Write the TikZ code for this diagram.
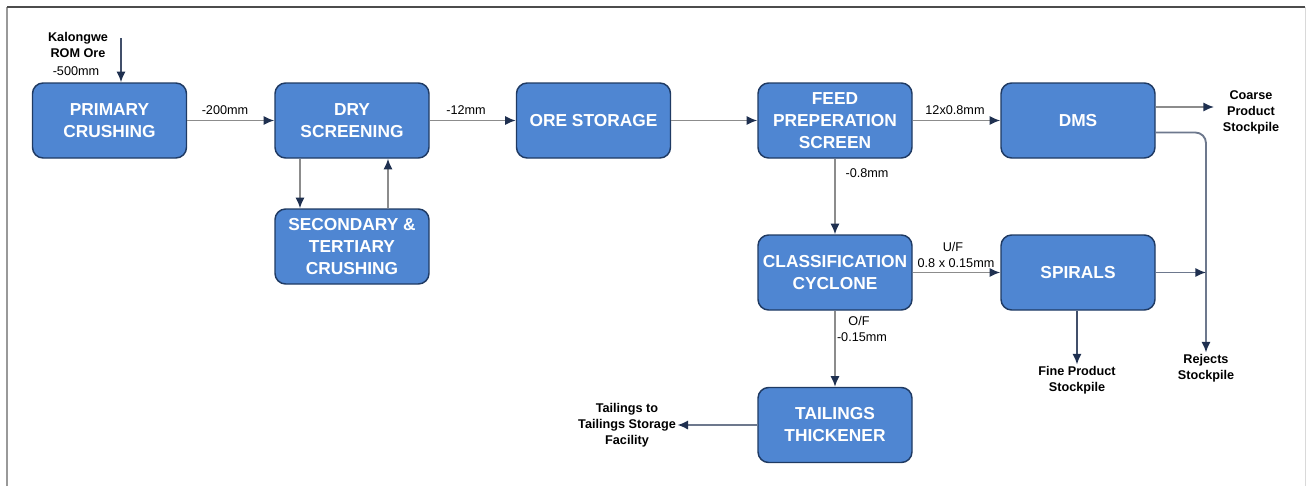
\documentclass[tikz,border=0pt]{standalone}
\usepackage{fontspec}
\setmainfont{Liberation Sans}
\usepackage{tikz}
\usetikzlibrary{positioning}
\usetikzlibrary{arrows.meta}

\definecolor{boxblue}{HTML}{4F86D2}
\definecolor{boxedge}{HTML}{1F3A63}
\definecolor{linegray}{HTML}{8C8C8C}
\definecolor{tipnavy}{HTML}{1F3050}

\tikzset{
  unit/.style={draw=boxedge, line width=1.1pt, fill=boxblue, rounded corners=8pt,
    minimum width=115.5pt, minimum height=56.25pt, align=center, text=white,
    font=\fontsize{13}{16.5}\selectfont\bfseries},
  flow/.style={draw=linegray, line width=1.4pt,
    -{Latex[length=8pt,width=7pt,color=tipnavy]}},
  darkflow/.style={flow, draw=tipnavy!85},
  size/.style={font=\fontsize{9.5}{11.5}\selectfont, inner sep=1pt},
  pile/.style={font=\fontsize{9.5}{12}\selectfont\bfseries, align=center, inner sep=1pt},
}

\begin{document}
\begin{tikzpicture}[x=0.75pt, y=-0.75pt]
  \useasboundingbox (0,0) rectangle (1306,486);
  \draw [black!40, line width=1.5pt] (7,486) -- (7,7);
  \draw [black!70, line width=1.5pt] (7,7) -- (1305,7);
  \draw [black!15, line width=0.75pt] (1305,7) -- (1305,486);

  % process units
  \node [unit] (prim) at (109.5,120.5) {PRIMARY\\CRUSHING};
  \node [unit] (dry)  at (352,120.5)   {DRY\\SCREENING};
  \node [unit] (ore)  at (593.5,120.5) {ORE STORAGE};
  \node [unit] (feed) at (835,120.5)   {FEED\\PREPERATION\\SCREEN};
  \node [unit] (dms)  at (1078,120.5)  {DMS};
  \node [unit] (sec)  at (352,246.5)   {SECONDARY \&\\TERTIARY\\CRUSHING};
  \node [unit] (cyc)  at (835,272.5)   {CLASSIFICATION\\CYCLONE};
  \node [unit] (spi)  at (1078,272.5)  {SPIRALS};
  \node [unit] (tail) at (835,425)     {TAILINGS\\THICKENER};

  % feeds and products
  \coordinate (rom) at (121,38);
  \node [pile] (romtxt) at (78,45) {Kalongwe\\ROM Ore};
  \node [size] (romsize) at (76,71) {-500mm};
  \coordinate (coarse) at (1214,107);
  \node [pile] (coarsetxt) at (1251,112) {Coarse\\Product\\Stockpile};
  \node [pile] (rej)  at (1206,368) {Rejects\\Stockpile};
  \node [pile] (fine) at (1077,380) {Fine Product\\Stockpile};
  \node [pile] (tsf)  at (627,425) {Tailings to\\Tailings Storage\\Facility};

  \draw [darkflow] (rom) -- (rom |- prim.north);
  \draw [flow] (prim) -- (dry);
  \draw [flow] ([xshift=-39pt]dry.south) -- ([xshift=-39pt]sec.north);
  \draw [flow] ([xshift=27pt]sec.north) -- ([xshift=27pt]dry.south);
  \draw [flow] (dry) -- (ore);
  \draw [flow] (ore) -- (feed);
  \draw [flow] (feed) -- (dms);
  \draw [flow] (dms.east |- coarse) -- (coarse);
  \draw [flow, draw=tipnavy!65, rounded corners=8pt] ([yshift=-9pt]dms.east) -| (rej.north);
  \draw [flow] (feed) -- (cyc);
  \draw [flow] (cyc) -- (spi);
  \draw [flow, draw=tipnavy!65] (spi) -- (spi -| rej);
  \draw [darkflow] (spi.south -| fine) -- (fine);
  \draw [flow] (cyc) -- (tail);
  \draw [flow, draw=tipnavy!65] (tail) -- (tsf);

  % stream labels
  \node [size] at (225,110) {-200mm};
  \node [size] at (466,110) {-12mm};
  \node [size] at (955,110) {12x0.8mm};
  \node [size] at (867,173) {-0.8mm};
  \node [size] at (953,247) {U/F};
  \node [size] at (956,263) {0.8 x 0.15mm};
  \node [size] at (859,321) {O/F};
  \node [size] at (862,337) {-0.15mm};
\end{tikzpicture}
\end{document}
